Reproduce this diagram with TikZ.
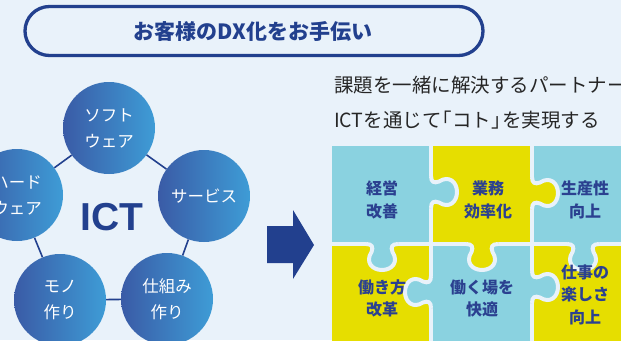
\documentclass[tikz,border=0pt]{standalone}
\usepackage{fontspec}
\setmainfont{Liberation Sans}
\newfontfamily\jp{Noto Sans CJK JP}
\usetikzlibrary{shapes.misc}
\definecolor{bg}{HTML}{E9F2FA}
\definecolor{dblue}{HTML}{22408E}
\definecolor{cL}{HTML}{3A5BA6}
\definecolor{cR}{HTML}{3E9CD6}
\definecolor{pc}{HTML}{8AD2E0}
\definecolor{py}{HTML}{E6DE00}
\definecolor{ptext}{HTML}{2B4190}
\definecolor{tgray}{HTML}{262626}
\tikzset{
  ball/.style={circle, minimum size=92, inner sep=0, left color=cL, right color=cR, text=white, align=center, font=\jp\fontsize{16.5}{26}\selectfont},
  conn/.style={draw=dblue, line width=1.6},
  gap/.style={draw=bg, line width=4},
  ptxt/.style={font=\jp\bfseries\fontsize{16}{22.5}\selectfont, text=ptext, align=center, inner sep=0},
  rtxt/.style={anchor=west, font=\jp\fontsize{19.5}{19.5}\selectfont, text=tgray, inner sep=0}
}
\newcommand\pzknob[4]{%
  \begin{scope}[shift={(#1,#2)}, rotate=#3]
    \fill[#4] (-16,-3) -- (-16,0) .. controls (-10,0) and (-8.5,3) .. (-10.5,8) .. controls (-17,18) and (-10,26) .. (0,26) .. controls (10,26) and (17,18) .. (10.5,8) .. controls (8.5,3) and (10,0) .. (16,0) -- (16,-3) -- cycle;
    \draw[gap] (-16,0) .. controls (-10,0) and (-8.5,3) .. (-10.5,8) .. controls (-17,18) and (-10,26) .. (0,26) .. controls (10,26) and (17,18) .. (10.5,8) .. controls (8.5,3) and (10,0) .. (16,0);
  \end{scope}}
\begin{document}
\begin{tikzpicture}[x=1pt, y=-1pt]
\useasboundingbox (0,0) rectangle (621,340);
\fill[bg] (0,0) rectangle (621,340);
\begin{scope}
\clip (0,0) rectangle (621,340);
% title
\node[rounded rectangle, draw=dblue, line width=3.3, fill=bg, minimum width=458, minimum height=49, inner sep=0] (title) at (254,31) {};
\node[font=\jp\bfseries\fontsize{21}{21}\selectfont, text=dblue] (titletext) at (253,31.5) {お客様のDX化をお手伝い};
% right texts
\node[rtxt] (t1) at (334,85) {課題を一緒に解決するパートナー};
\node[rtxt] (t2) at (334,120) {ICTを通じて\kern-0.45em「コト」\kern-0.45em を実現する};
% circles
\node[ball] (soft) at (109,128) {ソフト\\ウェア};
\node[ball] (serv) at (204,196) {サービス};
\node[ball] (shik) at (167,299) {仕組み\\作り};
\node[ball] (mono) at (60,300) {モノ\\作り};
\node[ball] (hard) at (17,195) {ハード\\ウェア};
\draw[conn] (soft) -- (serv);
\draw[conn] (serv) -- (shik);
\draw[conn] (shik) -- (mono);
\draw[conn] (mono) -- (hard);
\draw[conn] (hard) -- (soft);
\node[font=\bfseries\fontsize{39}{39}\selectfont, text=dblue, inner sep=0] (ict) at (112,217) {ICT};
% arrow
\fill[dblue] (267,226) -- (293,226) -- (293,210) -- (314,245) -- (293,279) -- (293,263) -- (267,263) -- cycle;
% puzzle cells
\fill[pc] (332,146) rectangle (431,244);
\fill[py] (431,146) rectangle (532,244);
\fill[pc] (532,146) rectangle (625,244);
\fill[py] (332,244) rectangle (431,345);
\fill[pc] (431,244) rectangle (532,345);
\fill[py] (532,244) rectangle (625,345);
\draw[gap] (431,144) -- (431,345);
\draw[gap] (532,144) -- (532,345);
\draw[gap] (330,244) -- (625,244);
\pzknob{431}{192}{90}{pc}
\pzknob{532}{193}{90}{py}
\pzknob{382}{244}{0}{pc}
\pzknob{482}{244}{0}{py}
\pzknob{583}{244}{0}{pc}
\pzknob{431}{292}{-90}{pc}
\pzknob{532}{287}{90}{pc}
\node[ptxt] (p1) at (382,200) {経営\\改善};
\node[ptxt] (p2) at (488,200) {業務\\効率化};
\node[ptxt] (p3) at (585,200) {生産性\\向上};
\node[ptxt] (p4) at (382,298.5) {働き方\\改革};
\node[ptxt] (p5) at (482,298.5) {働く場を\\快適};
\node[ptxt] (p6) at (585,294.5) {仕事の\\楽しさ\\向上};
\end{scope}
\end{tikzpicture}
\end{document}
